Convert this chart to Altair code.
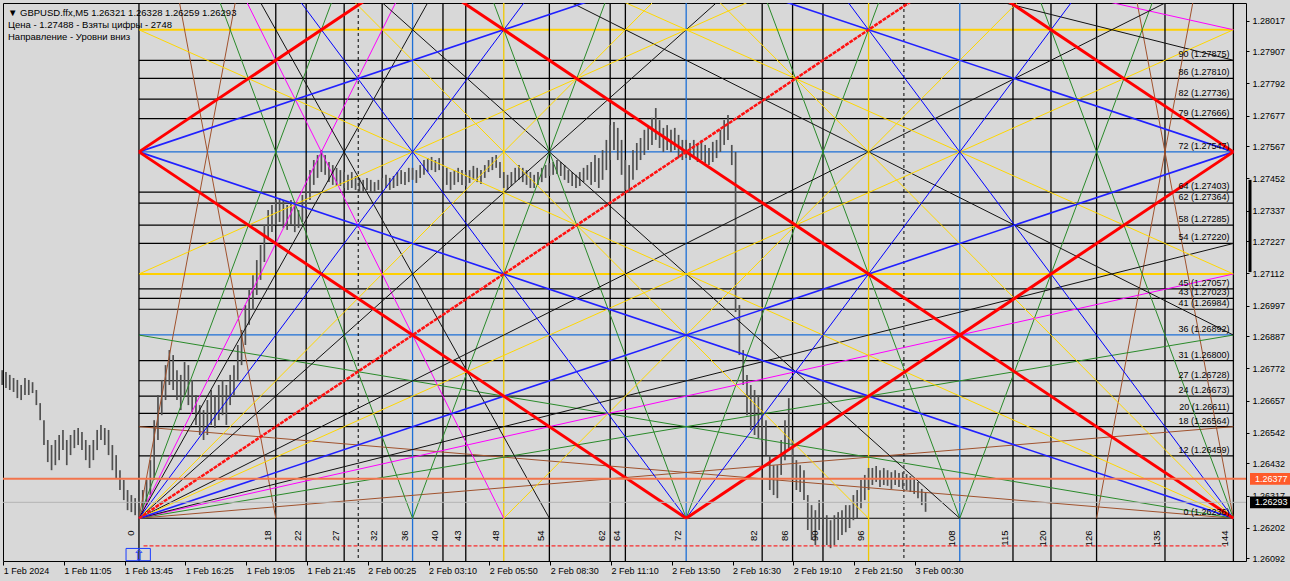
import altair as alt
import pandas as pd

BG = "#d8d8d8"
FONT = "Liberation Sans"

# ---------------- axes ----------------
price_ticks = [1.26092, 1.26202, 1.26317, 1.26432, 1.26542, 1.26657, 1.26772, 1.26887, 1.26997,
               1.27112, 1.27227, 1.27337, 1.27452, 1.27567, 1.27677, 1.27792, 1.27907, 1.28017]
time_tick_t = [-17.85, -9.9, -1.9, 6.1, 14.1, 22.1, 30.1, 38.1, 46.1, 54.1, 62.1, 70.1, 78.1, 86.1, 94.1, 102.1]
time_tick_labels = ["1 Feb 2024", "1 Feb 11:05", "1 Feb 13:45", "1 Feb 16:25", "1 Feb 19:05", "1 Feb 21:45",
                    "2 Feb 00:25", "2 Feb 03:10", "2 Feb 05:50", "2 Feb 08:30", "2 Feb 11:10", "2 Feb 13:50",
                    "2 Feb 16:30", "2 Feb 19:10", "2 Feb 21:50", "3 Feb 00:30"]
T_DOMAIN = [-17.89, 145.66]
P_DOMAIN = [1.26083, 1.28080]

# ---------------- Gann square ----------------
P0 = 1.26236
P90 = 1.27875
STEP = (P90 - P0) / 90.0
SQ = 144

level_n = [0, 12, 18, 20, 24, 27, 31, 36, 41, 43, 45, 54, 58, 62, 64, 72, 79, 82, 86, 90]
level_price = [1.26236, 1.26459, 1.26564, 1.26611, 1.26673, 1.26728, 1.26800, 1.26892, 1.26984, 1.27023,
               1.27057, 1.27220, 1.27285, 1.27364, 1.27403, 1.27547, 1.27666, 1.27736, 1.27810, 1.27875]
blue_levels = [36, 72]
yellow_levels_p = [48, 96]

vert_t = [0, 18, 22, 27, 32, 36, 40, 43, 48, 54, 62, 64, 72, 82, 86, 90, 96, 108, 115, 120, 126, 135, 144]
blue_vert = [36, 72, 108]
yellow_vert = [48, 96]
separator_t = [28.85, 100.65]

red_thick = [(0, 72, 72, 144), (72, 144, 144, 72), (144, 72, 72, 0), (72, 0, 0, 72), (0, 144, 144, 0)]
red_dashed = [(0, 0, 144, 144)]
blue_steep = [(0, 0, 72, 144), (0, 144, 72, 0), (144, 0, 72, 144), (144, 144, 72, 0)]
blue_flat = [(0, 0, 144, 72), (0, 144, 144, 72), (0, 72, 144, 0), (0, 72, 144, 144)]
yellow_lines = [(0, 0, 96, 144), (0, 0, 144, 96), (0, 144, 96, 0), (0, 144, 144, 48),
                (144, 0, 48, 144), (144, 0, 0, 96), (144, 144, 48, 0), (144, 144, 0, 48)]
green_lines = [(0, 0, 36, 144), (0, 0, 144, 36), (0, 144, 36, 0), (144, 0, 108, 144), (144, 0, 0, 36),
               (144, 144, 108, 0), (72, 0, 36, 144), (72, 0, 108, 144), (72, 144, 36, 0), (72, 144, 108, 0)]
magenta_lines = [(0, 0, 48, 144), (0, 0, 144, 48), (0, 144, 48, 0), (0, 144, 144, 96)]
black_lines = [(0, 0, 54, 144), (0, 0, 144, 54), (0, 0, 108, 144), (0, 0, 144, 108),
               (0, 144, 54, 0), (0, 144, 144, 90), (0, 144, 108, 0), (0, 144, 144, 36)]
brown_lines = [(0, 0, 18, 144), (0, 0, 144, 18), (0, 144, 18, 0), (144, 0, 126, 144),
               (144, 0, 0, 18), (144, 144, 126, 0)]

# ---------------- price bars (M5, sampled every 2 bars) ----------------
BAR_T0 = -18.0
BAR_DT = 0.5
bar_high = [
    1.26766, 1.26759, 1.26749, 1.26738, 1.26731, 1.26713, 1.26738, 1.26731,
    1.26723, 1.26695, 1.26648, 1.26587, 1.26516, 1.26498, 1.26516, 1.26534,
    1.26552, 1.26516, 1.26534, 1.26552, 1.26559, 1.26545, 1.26516, 1.26498,
    1.26516, 1.26552, 1.26570, 1.26559, 1.26552, 1.26498, 1.26462, 1.26408,
    1.26373, 1.26337, 1.26319, 1.26308, 1.26301, 1.26337, 1.26373, 1.26444,
    1.26587, 1.26677, 1.26731, 1.26784, 1.26838, 1.26820, 1.26766, 1.26749,
    1.26795, 1.26784, 1.26731, 1.26677, 1.26641, 1.26623, 1.26659, 1.26695,
    1.26677, 1.26713, 1.26731, 1.26713, 1.26749, 1.26784, 1.26856, 1.26910,
    1.26999, 1.27053, 1.27106, 1.27160, 1.27214, 1.27286, 1.27339, 1.27357,
    1.27375, 1.27382, 1.27375, 1.27357, 1.27375, 1.27357, 1.27339, 1.27393,
    1.27429, 1.27482, 1.27518, 1.27536, 1.27554, 1.27536, 1.27511, 1.27500,
    1.27490, 1.27482, 1.27475, 1.27465, 1.27475, 1.27461, 1.27454, 1.27447,
    1.27454, 1.27447, 1.27439, 1.27447, 1.27454, 1.27465, 1.27454, 1.27461,
    1.27475, 1.27482, 1.27475, 1.27490, 1.27490, 1.27482, 1.27500, 1.27518,
    1.27525, 1.27529, 1.27518, 1.27525, 1.27511, 1.27490, 1.27475, 1.27482,
    1.27490, 1.27482, 1.27475, 1.27482, 1.27497, 1.27490, 1.27482, 1.27500,
    1.27518, 1.27529, 1.27536, 1.27511, 1.27475, 1.27465, 1.27475, 1.27490,
    1.27500, 1.27490, 1.27482, 1.27475, 1.27465, 1.27475, 1.27490, 1.27500,
    1.27507, 1.27511, 1.27518, 1.27511, 1.27500, 1.27482, 1.27475, 1.27465,
    1.27475, 1.27490, 1.27500, 1.27511, 1.27536, 1.27525, 1.27554, 1.27590,
    1.27643, 1.27654, 1.27633, 1.27590, 1.27518, 1.27500, 1.27554, 1.27579,
    1.27597, 1.27626, 1.27643, 1.27669, 1.27704, 1.27661, 1.27633, 1.27643,
    1.27626, 1.27633, 1.27608, 1.27590, 1.27590, 1.27579, 1.27590, 1.27572,
    1.27590, 1.27572, 1.27561, 1.27583, 1.27590, 1.27626, 1.27661, 1.27679,
    1.27572, 1.27547, 1.26999, 1.26838, 1.26749, 1.26713, 1.26695, 1.26677,
    1.26659, 1.26587, 1.26462, 1.26426, 1.26426, 1.26516, 1.26587, 1.26666,
    1.26516, 1.26444, 1.26426, 1.26408, 1.26319, 1.26283, 1.26265, 1.26301,
    1.26301, 1.26247, 1.26229, 1.26247, 1.26258, 1.26265, 1.26283, 1.26283,
    1.26319, 1.26337, 1.26373, 1.26391, 1.26416, 1.26416, 1.26423, 1.26408,
    1.26416, 1.26408, 1.26401, 1.26408, 1.26398, 1.26401, 1.26394, 1.26387,
    1.26380, 1.26366, 1.26341, 1.26328,
]
bar_low = [
    1.26713, 1.26702, 1.26695, 1.26688, 1.26666, 1.26659, 1.26677, 1.26677,
    1.26684, 1.26641, 1.26587, 1.26498, 1.26437, 1.26408, 1.26426, 1.26444,
    1.26480, 1.26426, 1.26462, 1.26487, 1.26498, 1.26480, 1.26444, 1.26416,
    1.26444, 1.26480, 1.26516, 1.26498, 1.26462, 1.26408, 1.26380, 1.26337,
    1.26301, 1.26265, 1.26258, 1.26247, 1.26236, 1.26247, 1.26283, 1.26319,
    1.26373, 1.26516, 1.26605, 1.26659, 1.26713, 1.26695, 1.26659, 1.26623,
    1.26677, 1.26641, 1.26616, 1.26570, 1.26534, 1.26516, 1.26534, 1.26570,
    1.26559, 1.26587, 1.26605, 1.26570, 1.26641, 1.26677, 1.26731, 1.26784,
    1.26856, 1.26928, 1.26981, 1.27035, 1.27089, 1.27153, 1.27232, 1.27260,
    1.27286, 1.27296, 1.27275, 1.27268, 1.27286, 1.27260, 1.27275, 1.27296,
    1.27339, 1.27375, 1.27429, 1.27454, 1.27475, 1.27465, 1.27439, 1.27429,
    1.27425, 1.27425, 1.27418, 1.27411, 1.27418, 1.27411, 1.27404, 1.27404,
    1.27411, 1.27404, 1.27404, 1.27411, 1.27411, 1.27418, 1.27411, 1.27418,
    1.27425, 1.27432, 1.27429, 1.27439, 1.27447, 1.27436, 1.27454, 1.27465,
    1.27475, 1.27482, 1.27475, 1.27482, 1.27454, 1.27429, 1.27411, 1.27429,
    1.27439, 1.27429, 1.27425, 1.27436, 1.27447, 1.27439, 1.27432, 1.27454,
    1.27475, 1.27482, 1.27490, 1.27454, 1.27418, 1.27411, 1.27425, 1.27439,
    1.27447, 1.27439, 1.27429, 1.27418, 1.27418, 1.27429, 1.27439, 1.27454,
    1.27461, 1.27465, 1.27468, 1.27461, 1.27447, 1.27436, 1.27425, 1.27418,
    1.27425, 1.27439, 1.27447, 1.27429, 1.27439, 1.27418, 1.27447, 1.27482,
    1.27518, 1.27554, 1.27518, 1.27465, 1.27411, 1.27404, 1.27447, 1.27482,
    1.27518, 1.27536, 1.27554, 1.27572, 1.27590, 1.27561, 1.27547, 1.27554,
    1.27547, 1.27554, 1.27525, 1.27518, 1.27525, 1.27518, 1.27525, 1.27511,
    1.27518, 1.27507, 1.27500, 1.27511, 1.27525, 1.27547, 1.27572, 1.27590,
    1.27500, 1.26974, 1.26820, 1.26713, 1.26605, 1.26552, 1.26534, 1.26523,
    1.26509, 1.26462, 1.26337, 1.26319, 1.26308, 1.26391, 1.26444, 1.26487,
    1.26373, 1.26337, 1.26330, 1.26301, 1.26194, 1.26158, 1.26140, 1.26194,
    1.26211, 1.26140, 1.26129, 1.26140, 1.26158, 1.26176, 1.26186, 1.26201,
    1.26229, 1.26236, 1.26272, 1.26301, 1.26337, 1.26355, 1.26366, 1.26348,
    1.26355, 1.26352, 1.26341, 1.26355, 1.26348, 1.26341, 1.26337, 1.26330,
    1.26323, 1.26308, 1.26283, 1.26259,
]

marker_line_price = 1.26377
bid_price = 1.26293
dots_price = 1.26137
side_bar = (1.27447, 1.27117)

header_lines = ["▼ GBPUSD.ffx,M5  1.26321 1.26328 1.26259 1.26293",
                "Цена - 1.27488 - Взяты цифры - 2748",
                "Направление - Уровни вниз"]

# ---------------- build ----------------
labels_js = "[" + ",".join("'" + s + "'" for s in time_tick_labels) + "]"
x_label_expr = labels_js + "[round((datum.value + 17.9) / 8)]"

xs = alt.Scale(domain=T_DOMAIN, nice=False, zero=False)
ys = alt.Scale(domain=P_DOMAIN, nice=False, zero=False)

XAX = alt.Axis(values=time_tick_t, labelExpr=x_label_expr, orient="bottom", tickSize=4,
               tickColor="black", labelColor="black", labelFont=FONT, labelFontSize=9,
               labelAlign="left", labelBaseline="top", labelPadding=1, labelOverlap=False,
               labelFlush=False, labelBound=False, domain=False, grid=False, title=None)
YAX = alt.Axis(values=price_ticks, format=".5f", orient="right", tickSize=3, tickColor="black",
               labelColor="black", labelFont=FONT, labelFontSize=9, labelPadding=3,
               labelOverlap=False, labelFlush=False, labelBound=False, domain=False, grid=False,
               title=None)


def X(f):
    return alt.X(f + ":Q", scale=xs, axis=XAX)


def Y(f):
    return alt.Y(f + ":Q", scale=ys, axis=YAX)


def gp(p):
    return P0 + p * STEP


layers = []

# horizontal levels
lev = pd.DataFrame({
    "n": level_n, "price": level_price,
    "t0": 0, "t1": SQ,
    "color": ["#1c6fd6" if n in blue_levels else "#000000" for n in level_n],
    "label": [f"{n} ({p:.5f})" for n, p in zip(level_n, level_price)],
    "tl": 143.5,
})
layers.append(alt.Chart(lev).mark_rule(strokeWidth=1.2).encode(
    x=X("t0"), x2="t1", y=Y("price"), color=alt.Color("color:N", scale=None)))

ylev = pd.DataFrame({"price": [gp(p) for p in yellow_levels_p], "t0": 0, "t1": SQ})
layers.append(alt.Chart(ylev).mark_rule(strokeWidth=2, color="#ffd000").encode(
    x=X("t0"), x2="t1", y=Y("price")))

# vertical lines
vdf = pd.DataFrame({
    "t": vert_t,
    "color": ["#1c6fd6" if t in blue_vert else ("#f0c800" if t in yellow_vert else "#000000") for t in vert_t],
    "lab": [str(t) for t in vert_t],
    "ly": 1.26192,
})
layers.append(alt.Chart(vdf).mark_rule(strokeWidth=1.3).encode(
    x=X("t"), color=alt.Color("color:N", scale=None)))

sdf = pd.DataFrame({"t": separator_t})
layers.append(alt.Chart(sdf).mark_rule(strokeWidth=1, color="black", strokeDash=[3, 3]).encode(x=X("t")))

# price bars
bdf = pd.DataFrame({
    "t": [BAR_T0 + BAR_DT * i for i in range(len(bar_high))],
    "high": bar_high, "low": bar_low,
})
layers.append(alt.Chart(bdf).mark_rule(strokeWidth=1.7, color="#505050").encode(
    x=X("t"), y=Y("low"), y2="high"))


def seg_df(lines, color, width):
    return pd.DataFrame({
        "t1": [a[0] for a in lines], "y1": [gp(a[1]) for a in lines],
        "t2": [a[2] for a in lines], "y2": [gp(a[3]) for a in lines],
        "color": color, "w": width,
    })


diag = pd.concat([
    seg_df(brown_lines, "#a0522d", 1.0),
    seg_df(green_lines, "#2a8a2a", 1.0),
    seg_df(magenta_lines, "#ff00ff", 1.0),
    seg_df(black_lines, "#111111", 1.0),
    seg_df(yellow_lines, "#ffd700", 1.0),
    seg_df(blue_steep, "#0000ff", 1.0),
    seg_df(blue_flat, "#2020ff", 1.6),
    seg_df(red_thick, "#ff0000", 3.0),
], ignore_index=True)
layers.append(alt.Chart(diag).mark_rule(clip=True).encode(
    x=X("t1"), x2="t2", y=Y("y1"), y2="y2",
    color=alt.Color("color:N", scale=None), strokeWidth=alt.StrokeWidth("w:Q", scale=None)))

rd = seg_df(red_dashed, "#ff0000", 2.5)
layers.append(alt.Chart(rd).mark_rule(clip=True, color="#ff1010", strokeWidth=2.5, strokeDash=[4, 1]).encode(
    x=X("t1"), x2="t2", y=Y("y1"), y2="y2"))

# special horizontal lines
layers.append(alt.Chart(pd.DataFrame({"price": [bid_price]})).mark_rule(color="#b4b4b4", strokeWidth=1).encode(y=Y("price")))
layers.append(alt.Chart(pd.DataFrame({"price": [marker_line_price]})).mark_rule(color="#f2744c", strokeWidth=2).encode(y=Y("price")))
layers.append(alt.Chart(pd.DataFrame({"price": [dots_price], "t0": [0.6], "t1": [143.0]})).mark_rule(
    color="#ff0000", strokeWidth=1, strokeDash=[4, 2]).encode(x=X("t0"), x2="t1", y=Y("price")))

# level labels
layers.append(alt.Chart(lev).mark_text(align="right", baseline="bottom", dy=-1, font=FONT,
                                       fontSize=9, color="black").encode(
    x=X("tl"), y=Y("price"), text="label:N"))

# vertical numbers
layers.append(alt.Chart(vdf).mark_text(angle=270, align="right", baseline="bottom", dy=-3,
                                       font=FONT, fontSize=9.5, color="black").encode(
    x=X("t"), y=Y("ly"), text="lab:N"))

# right-side price boxes and bar
box = pd.DataFrame({
    "price": [marker_line_price, bid_price],
    "top": [marker_line_price + 0.00021, bid_price + 0.00021],
    "bot": [marker_line_price - 0.00021, bid_price - 0.00021],
    "fill": ["#ff5a2a", "#000000"],
    "txt": [f"{marker_line_price:.5f}", f"{bid_price:.5f}"],
})
layers.append(alt.Chart(box).mark_rect().encode(
    x=alt.value(1247), x2=alt.value(1290), y=Y("top"), y2="bot",
    fill=alt.Fill("fill:N", scale=None)))
layers.append(alt.Chart(box).mark_text(align="left", baseline="middle", font=FONT, fontSize=9,
                                       color="white").encode(
    x=alt.value(1252), y=Y("price"), text="txt:N"))
layers.append(alt.Chart(pd.DataFrame({"top": [side_bar[0]], "bot": [side_bar[1]]})).mark_rule(
    color="black", strokeWidth=3).encode(x=alt.value(1247), y=Y("top"), y2="bot"))

# blue arrow box (start marker)
arr = pd.DataFrame({"t0": [-1.7], "t1": [1.5], "top": [1.26128], "bot": [1.26084], "tc": [0.0], "pc": [1.26103]})
layers.append(alt.Chart(arr).mark_rect(fillOpacity=0, stroke="#1a3cff", strokeWidth=1).encode(
    x=X("t0"), x2="t1", y=Y("top"), y2="bot"))
layers.append(alt.Chart(arr).mark_text(text="⇧", color="#1a3cff", fontSize=15, font="DejaVu Sans").encode(
    x=X("tc"), y=Y("pc")))

# header
hdr = pd.DataFrame({"txt": header_lines, "yy": [10, 22, 34]})
layers.append(alt.Chart(hdr).mark_text(align="left", baseline="middle", font=FONT, fontSize=9.5,
                                       color="black").encode(
    x=alt.value(5), y=alt.Y("yy:Q", scale=None), text="txt:N"))

chart = alt.layer(*layers).properties(
    width=1243, height=558,
    padding={"left": 3, "top": 3, "right": 44, "bottom": 20},
    autosize=alt.AutoSizeParams(type="none"),
    background=BG,
).configure_view(stroke="black", strokeWidth=1, fill=BG)

chart.save("out.html", embed_options={"renderer": "svg", "actions": False})
